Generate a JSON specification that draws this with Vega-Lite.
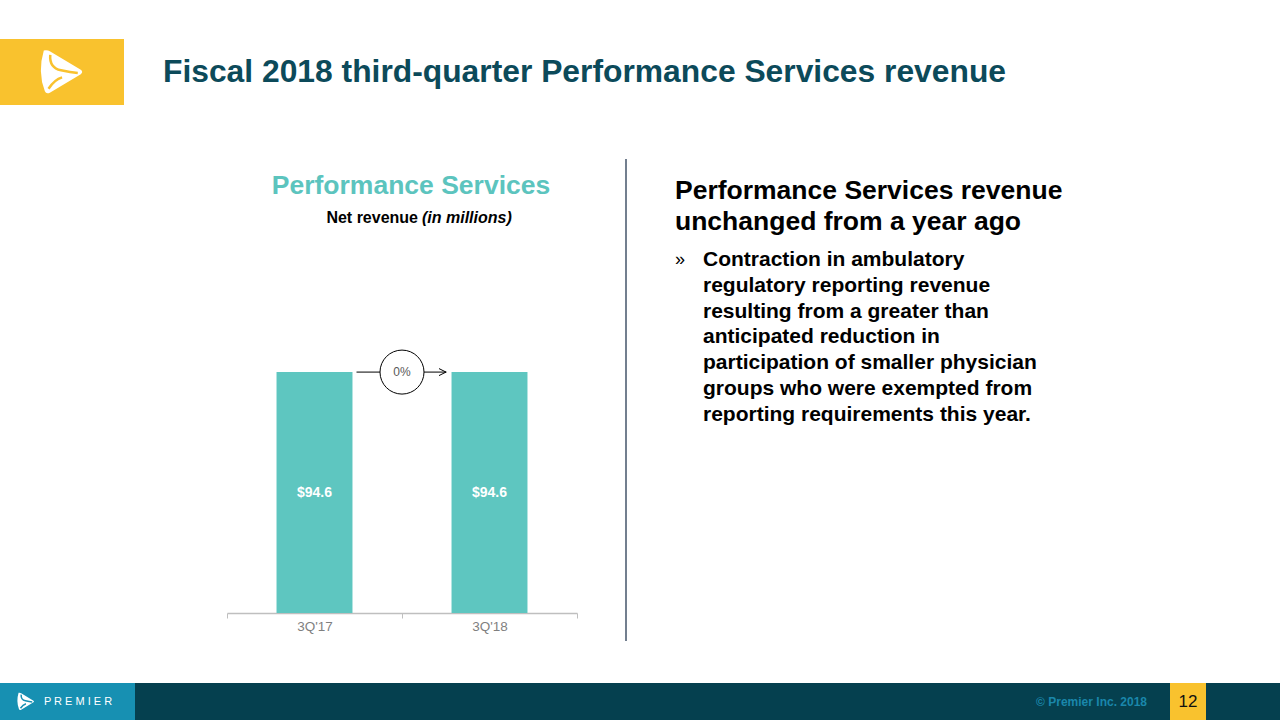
{
  "$schema": "https://vega.github.io/schema/vega-lite/v6.json",
  "background": "white",
  "padding": {"left": 0, "top": 39, "right": 0, "bottom": 0},
  "spacing": 0,
  "config": {"font": "Liberation Sans", "view": {"stroke": null}, "axis": {"grid": false}},
  "vconcat": [
    {
      "hconcat": [
        {
          "width": 124, "height": 66,
          "view": {"fill": "#f9c22e", "stroke": null},
          "data": {"values": [{"part": "logo"}]},
          "layer": [
            {"mark": {"type": "point", "shape": "M-0.8,-1Q-0.65,-1.05,-0.5,-0.95L0.92,-0.1Q1.05,0,0.92,0.1L-0.5,0.95Q-0.68,1.05,-0.75,0.9Q-1.1,0,-0.8,-1Z", "filled": true, "fill": "white", "strokeWidth": 0, "size": 1849, "opacity": 1, "xOffset": -1}},
            {"mark": {"type": "point", "shape": "M-0.5,-0.8Q-0.55,-0.2,0,-0.08Q0.45,0.02,0.78,0.05M-0.58,0.78Q-0.3,0.35,0.05,0.25", "filled": false, "stroke": "#f9c22e", "strokeWidth": 2.5, "size": 1849, "opacity": 1, "xOffset": -1}}
          ]
        },
        {
          "width": 1117, "height": 66,
          "data": {"values": [{"title": "Fiscal 2018 third-quarter Performance Services revenue"}]},
          "mark": {"type": "text", "align": "left", "baseline": "middle", "fontSize": 31.8, "fontWeight": "bold", "color": "#0c4a5a"},
          "encoding": {
            "x": {"datum": 0, "type": "quantitative", "scale": {"domain": [0, 1]}, "axis": null},
            "text": {"field": "title"}
          }
        }
      ],
      "spacing": 39
    },
    {"width": 1280, "height": 53, "data": {"values": [{}]}, "mark": {"type": "rect", "opacity": 0}},
    {
      "hconcat": [
        {"width": 226, "height": 10, "data": {"values": [{}]}, "mark": {"type": "rect", "opacity": 0}},
        {
          "vconcat": [
            {
              "width": 350, "height": 72,
              "data": {"values": [{"title": "Performance Services", "sub1": "Net revenue", "sub2": "(in millions)"}]},
              "layer": [
                {"mark": {"type": "text", "fontSize": 26.5, "fontWeight": "bold", "color": "#5cc4be", "baseline": "middle", "dx": 9, "dy": -9.5}, "encoding": {"text": {"field": "title"}}},
                {"mark": {"type": "text", "fontSize": 16, "fontWeight": "bold", "color": "#000000", "align": "right", "baseline": "middle", "dx": 16, "dy": 23}, "encoding": {"text": {"field": "sub1"}}},
                {"mark": {"type": "text", "fontSize": 16, "fontWeight": "bold", "fontStyle": "italic", "color": "#000000", "align": "left", "baseline": "middle", "dx": 20, "dy": 23}, "encoding": {"text": {"field": "sub2"}}}
              ]
            },
            {
              "width": 350, "height": 382,
              "layer": [
                {
                  "data": {"values": [{"from": "3Q'17", "to": "3Q'18", "level": 94.6, "change": "0%"}]},
                  "mark": {"type": "rule", "color": "#000000", "strokeWidth": 1, "xOffset": 42, "x2Offset": -43},
                  "encoding": {
                    "x": {"field": "from", "type": "nominal"},
                    "x2": {"field": "to"},
                    "y": {"field": "level", "type": "quantitative"}
                  }
                },
                {
                  "data": {"values": [{"quarter": "3Q'17", "revenue": 94.6}, {"quarter": "3Q'18", "revenue": 94.6}]},
                  "layer": [
                    {
                      "mark": {"type": "bar", "color": "#5ec6c0", "width": {"band": 0.434}},
                      "encoding": {
                        "x": {"field": "quarter", "type": "nominal", "scale": {"type": "band", "paddingInner": 0, "paddingOuter": 0},
                              "axis": {"title": null, "labelAngle": 0, "labelAlign": "center", "labelFontSize": 13.5, "labelColor": "#7f7f7f", "domainColor": "#bfbfbf", "domainWidth": 1.5, "tickColor": "#bfbfbf", "tickSize": 5, "tickBand": "extent", "labelPadding": 8}},
                        "y": {"field": "revenue", "type": "quantitative", "scale": {"domain": [0, 150], "nice": false}, "axis": null}
                      }
                    },
                    {
                      "mark": {"type": "text", "fontSize": 14, "fontWeight": "bold", "color": "white", "baseline": "middle", "dy": 120.5},
                      "encoding": {
                        "x": {"field": "quarter", "type": "nominal"},
                        "y": {"field": "revenue", "type": "quantitative"},
                        "text": {"field": "revenue", "type": "quantitative", "format": "$.1f"}
                      }
                    }
                  ]
                },
                {
                  "data": {"values": [{"from": "3Q'17", "to": "3Q'18", "level": 94.6, "change": "0%"}]},
                  "layer": [
                    {
                      "mark": {"type": "circle", "fill": "white", "stroke": "#000000", "strokeWidth": 1, "size": 1936, "opacity": 1},
                      "encoding": {
                        "x": {"field": "to", "type": "nominal", "bandPosition": 0},
                        "y": {"field": "level", "type": "quantitative"}
                      }
                    },
                    {
                      "mark": {"type": "text", "fontSize": 12, "color": "#595959", "baseline": "middle"},
                      "encoding": {
                        "x": {"field": "to", "type": "nominal", "bandPosition": 0},
                        "y": {"field": "level", "type": "quantitative"},
                        "text": {"field": "change"}
                      }
                    },
                    {
                      "mark": {"type": "point", "shape": "M-2,-1L0,0L-2,1", "filled": false, "stroke": "#000000", "strokeWidth": 1, "size": 49, "opacity": 1, "xOffset": -43.5},
                      "encoding": {
                        "x": {"field": "to", "type": "nominal"},
                        "y": {"field": "level", "type": "quantitative"}
                      }
                    }
                  ]
                }
              ]
            }
          ],
          "spacing": 0
        },
        {"width": 47, "height": 10, "data": {"values": [{}]}, "mark": {"type": "rect", "opacity": 0}},
        {
          "width": 655, "height": 482,
          "data": {"values": [{"heading": "Performance Services revenue\nunchanged from a year ago", "bullet": "»", "body": "Contraction in ambulatory\nregulatory reporting revenue\nresulting from a greater than\nanticipated reduction in\nparticipation of smaller physician\ngroups who were exempted from\nreporting requirements this year."}]},
          "encoding": {"x": {"datum": 0, "type": "quantitative", "scale": {"domain": [0, 1]}, "axis": null}},
          "layer": [
            {"mark": {"type": "rule", "color": "#44546a", "strokeWidth": 1.5}, "encoding": {}},
            {"mark": {"type": "text", "align": "left", "baseline": "alphabetic", "lineBreak": "\n", "lineHeight": 31, "fontSize": 26.5, "fontWeight": "bold", "color": "#000000", "dx": 49, "dy": -201}, "encoding": {"text": {"field": "heading"}}},
            {"mark": {"type": "text", "align": "left", "baseline": "alphabetic", "fontSize": 18, "color": "#000000", "dx": 49, "dy": -135}, "encoding": {"text": {"field": "bullet"}}},
            {"mark": {"type": "text", "align": "left", "baseline": "alphabetic", "lineBreak": "\n", "lineHeight": 25.8, "fontSize": 21, "fontWeight": "bold", "color": "#000000", "dx": 77, "dy": -134}, "encoding": {"text": {"field": "body"}}}
          ]
        }
      ],
      "spacing": 0
    },
    {"width": 1280, "height": 41, "data": {"values": [{}]}, "mark": {"type": "rect", "opacity": 0}},
    {
      "hconcat": [
        {
          "width": 135, "height": 37,
          "view": {"fill": "#1790b2", "stroke": null},
          "data": {"values": [{"name": "P R E M I E R"}]},
          "layer": [
            {"mark": {"type": "point", "shape": "M-0.8,-1Q-0.65,-1.05,-0.5,-0.95L0.92,-0.1Q1.05,0,0.92,0.1L-0.5,0.95Q-0.68,1.05,-0.75,0.9Q-1.1,0,-0.8,-1Z", "filled": true, "fill": "white", "strokeWidth": 0, "size": 300, "opacity": 1, "xOffset": -42}},
            {"mark": {"type": "point", "shape": "M-0.5,-0.8Q-0.55,-0.2,0,-0.08Q0.45,0.02,0.78,0.05M-0.58,0.78Q-0.3,0.35,0.05,0.25", "filled": false, "stroke": "#1790b2", "strokeWidth": 1.5, "size": 300, "opacity": 1, "xOffset": -42}},
            {"mark": {"type": "text", "fontSize": 11, "color": "white", "baseline": "middle", "dx": 10.5}, "encoding": {"text": {"field": "name"}}}
          ]
        },
        {
          "width": 1035, "height": 37,
          "view": {"fill": "#05404f", "stroke": null},
          "data": {"values": [{"c": "© Premier Inc. 2018"}]},
          "mark": {"type": "text", "align": "right", "baseline": "middle", "fontSize": 12, "fontWeight": "bold", "color": "#1a87ab", "dx": -23},
          "encoding": {
            "x": {"datum": 1, "type": "quantitative", "scale": {"domain": [0, 1]}, "axis": null},
            "text": {"field": "c"}
          }
        },
        {
          "width": 36, "height": 37,
          "view": {"fill": "#f9c22e", "stroke": null},
          "data": {"values": [{"p": "12"}]},
          "mark": {"type": "text", "baseline": "middle", "fontSize": 17, "color": "#111111"},
          "encoding": {"text": {"field": "p"}}
        },
        {
          "width": 74, "height": 37,
          "view": {"fill": "#05404f", "stroke": null},
          "data": {"values": [{}]},
          "mark": {"type": "rect", "opacity": 0}
        }
      ],
      "spacing": 0
    }
  ]
}
